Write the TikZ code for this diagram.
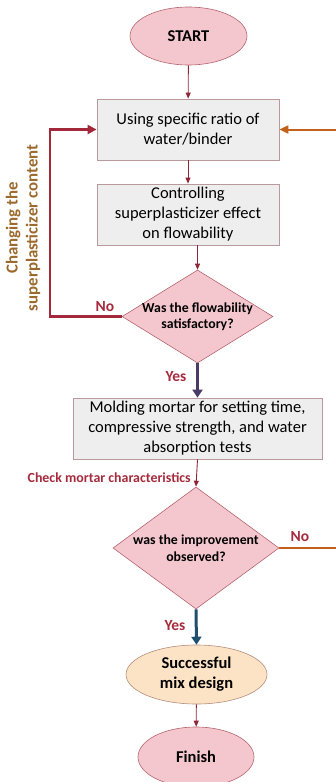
\documentclass[tikz,border=0pt]{standalone}
\usepackage{fontspec}
\setmainfont{Carlito}
\usetikzlibrary{shapes.geometric,arrows.meta}
\definecolor{pinkfill}{HTML}{F4C7CF}
\definecolor{pinkdraw}{HTML}{B5646E}
\definecolor{boxfill}{HTML}{EEEEEE}
\definecolor{boxdraw}{HTML}{B89A9E}
\definecolor{thinarrow}{HTML}{8E2735}
\definecolor{loopred}{HTML}{A3283A}
\definecolor{orangeline}{HTML}{C2621A}
\definecolor{purplearrow}{HTML}{4A3A66}
\definecolor{bluearrow}{HTML}{1F4E6E}
\definecolor{labelred}{HTML}{A52A3C}
\definecolor{browntext}{HTML}{9B6A2C}
\definecolor{succfill}{HTML}{FCE3C6}
\definecolor{succdraw}{HTML}{B58E7A}
\begin{document}
\begin{tikzpicture}[x=1pt,y=-1pt,
  term/.style={ellipse,fill=pinkfill,draw=pinkdraw,line width=0.6pt,inner sep=0pt,align=center,font=\bfseries\fontsize{16.5}{20}\selectfont},
  procbox/.style={rectangle,fill=boxfill,draw=boxdraw,line width=0.8pt,inner sep=0pt,align=center,font=\fontsize{16.5}{20}\selectfont},
  decision/.style={diamond,fill=pinkfill,draw=pinkdraw,line width=0.6pt,inner sep=0pt},
  dtext/.style={align=center,font=\bfseries\fontsize{13.8}{16.5}\selectfont},
  thin/.style={draw=thinarrow,line width=0.9pt,-{Triangle[length=6pt,width=5pt]}},
  thickyes/.style={line width=3pt,-{Triangle[length=8pt,width=10pt]}},
  lbl/.style={text=labelred,font=\bfseries\fontsize{15.5}{18}\selectfont},
]
\useasboundingbox (0,0) rectangle (336,782);
\begin{scope}
\clip (0,0) rectangle (336,782);
\node[term,minimum width=117pt,minimum height=58pt] (start) at (188.5,36) {START};
\node[procbox,minimum width=182pt,minimum height=61pt] (box1) at (188,129.5) {Using specific ratio of\\water/binder};
\node[procbox,minimum width=182pt,minimum height=61pt] (box2) at (188,214.5) {Controlling\\superplasticizer effect\\on flowability};
\node[decision,minimum width=151pt,minimum height=93pt,label={[dtext]center:Was the flowability\\satisfactory?}] (d1) at (197.5,316.5) {};
\node[procbox,minimum width=249pt,minimum height=61pt] (box3) at (197.5,428.5) {Molding mortar for setting time,\\compressive strength, and water\\absorption tests};
\node[decision,minimum width=166pt,minimum height=122pt,label={[dtext]center:was the improvement\\observed?}] (d2) at (196,548) {};
\node[term,fill=succfill,draw=succdraw,minimum width=141pt,minimum height=59pt] (succ) at (196.5,674.5) {Successful\\mix design};
\node[term,minimum width=116pt,minimum height=60pt] (finish) at (196,757) {Finish};

\draw[thin] (start) -- (box1);
\draw[thin] (box1) -- (box2);
\draw[thin] (box2.south -| d1.north) -- (d1.north);
\draw[thickyes,draw=purplearrow,fill=purplearrow] (d1.south) -- (box3.north);
\draw[thin] (box3.south) -- (d2.north);
\draw[thickyes,draw=bluearrow,fill=bluearrow] (d2.south) -- (succ.north);
\draw[thin] (succ) -- (finish);

\coordinate (lp) at (50,316.5);
\draw[draw=loopred,line width=2.5pt,-{Triangle[length=9pt,width=9pt]}] (d1.west) -- (lp) |- (box1.west);
\coordinate (rp) at (345,548);
\draw[draw=orangeline,line width=2pt,-{Triangle[length=9pt,width=8pt]}] (d2.east) -- (rp) |- (box1.east);

\node[lbl] (no1) at (105,307) {No};
\node[lbl] (yes1) at (176,377) {Yes};
\node[lbl] (no2) at (300,537) {No};
\node[lbl] (yes2) at (175,626) {Yes};
\node[text=labelred,font=\bfseries\fontsize{13.9}{16}\selectfont,anchor=east,inner sep=0pt] (chk) at (191,478) {Check mortar characteristics};
\node[text=browntext,font=\bfseries\fontsize{16.8}{20}\selectfont,rotate=90,align=center] (chg) at (23,228) {Changing the\\superplasticizer content};
\end{scope}
\end{tikzpicture}
\end{document}
